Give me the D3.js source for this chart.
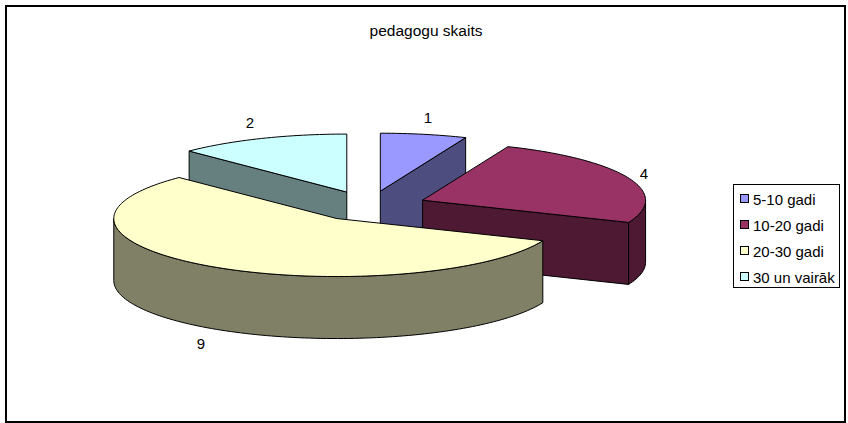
<!DOCTYPE html>
<meta charset="utf-8">
<style>
  html, body { margin: 0; background: #fff; }
  text { font-family: "Liberation Sans", Arial, sans-serif; font-size: 15px; fill: #000; }
</style>
<script src="https://d3js.org/d3.v7.min.js"></script>
<div id="chart"></div>
<script>
  var categories = ["5-10 gadi", "10-20 gadi", "20-30 gadi", "30 un vairāk"];
  var values = [1, 4, 9, 2];
  var colors = ["#9999ff", "#993366", "#ffffcc", "#ccffff"];
  var sideColors = ["#4d4d80", "#4d1933", "#808066", "#668080"];
  var title = "pedagogu skaits";

  var W = 848, H = 423;

  var svg = d3.select("#chart").append("svg")
    .attr("width", W).attr("height", H)
    .style("display", "block");

  // chart frame
  svg.append("rect")
    .attr("x", 6).attr("y", 6)
    .attr("width", 839).attr("height", 416)
    .attr("fill", "#fff").attr("stroke", "#000").attr("stroke-width", 2);

  svg.append("text")
    .attr("x", 426).attr("y", 36)
    .attr("text-anchor", "middle")
    .style("font-size", "15.5px")
    .text(title);

  // pie plane -> screen, the tilted disc is just an ellipse
  var x = d3.scaleLinear().domain([-1, 1]).range([369 - 223, 369 + 223]);
  var y = d3.scaleLinear().domain([-1, 1]).range([206 + 58, 206 - 58]);
  var depth = 62, explode = 0.26;

  var pie = d3.pie().sort(null);
  var arcs = pie(values);

  // apex of a slice, moved out along its middle angle
  function apex(a) {
    var m = (a.startAngle + a.endAngle) / 2;
    return [explode * Math.sin(m), explode * Math.cos(m)];
  }
  function pt(c, ang, r) {
    return [x(c[0] + r * Math.sin(ang)), y(c[1] + r * Math.cos(ang))];
  }
  function rim(c, a0, a1) {
    var pts = [], n = Math.max(2, Math.ceil((a1 - a0) * 40));
    for (var i = 0; i <= n; i++) pts.push(pt(c, a0 + (a1 - a0) * i / n, 1));
    return pts;
  }
  function down(p) { return [p[0], p[1] + depth]; }
  function poly(pts) { return "M" + pts.map(function (p) { return p[0] + "," + p[1]; }).join("L") + "Z"; }

  // back slices first, the big one sits in front of the others
  var order = [0, 3, 1, 2];
  var g = svg.append("g").attr("stroke", "#000").attr("stroke-width", 1).attr("stroke-linejoin", "round");

  order.forEach(function (i) {
    var a = arcs[i], c = apex(a), a0 = a.startAngle, a1 = a.endAngle;
    var tip = pt(c, 0, 0);

    // cut faces that turn towards the viewer
    if (Math.sin(a0) < -1e-6) {
      var p0 = pt(c, a0, 1);
      g.append("path").attr("d", poly([tip, p0, down(p0), down(tip)])).attr("fill", sideColors[i]);
    }
    if (Math.sin(a1) > 1e-6) {
      var p1 = pt(c, a1, 1);
      g.append("path").attr("d", poly([tip, p1, down(p1), down(tip)])).attr("fill", sideColors[i]);
    }

    // outer wall, only the front half of the ellipse
    var f0 = Math.max(a0, Math.PI / 2), f1 = Math.min(a1, 3 * Math.PI / 2);
    if (f1 > f0) {
      var top = rim(c, f0, f1);
      g.append("path").attr("d", poly(top.concat(top.map(down).reverse()))).attr("fill", sideColors[i]);
    }

    // top
    g.append("path").attr("d", poly([tip].concat(rim(c, a0, a1)))).attr("fill", colors[i]);
  });

  // data labels
  var labelX = [428, 644, 201, 250], labelY = [123, 179, 349, 128];
  svg.selectAll(".val").data(values).enter().append("text")
    .attr("class", "val")
    .attr("x", function (d, i) { return labelX[i]; })
    .attr("y", function (d, i) { return labelY[i]; })
    .attr("text-anchor", "middle")
    .text(function (d) { return d; });

  // legend
  var legend = svg.append("g");
  legend.append("rect")
    .attr("x", 733.5).attr("y", 184.5).attr("width", 106).attr("height", 103)
    .attr("fill", "#fff").attr("stroke", "#000");
  var rows = legend.selectAll(".row").data(categories).enter().append("g")
    .attr("class", "row")
    .attr("transform", function (d, i) { return "translate(0," + (199 + i * 26) + ")"; });
  rows.append("rect")
    .attr("x", 740.5).attr("y", -4.5).attr("width", 8).attr("height", 8)
    .attr("fill", function (d, i) { return colors[i]; })
    .attr("stroke", "#000");
  rows.append("text")
    .attr("x", 753).attr("y", 5.5)
    .text(function (d) { return d; });
</script>
